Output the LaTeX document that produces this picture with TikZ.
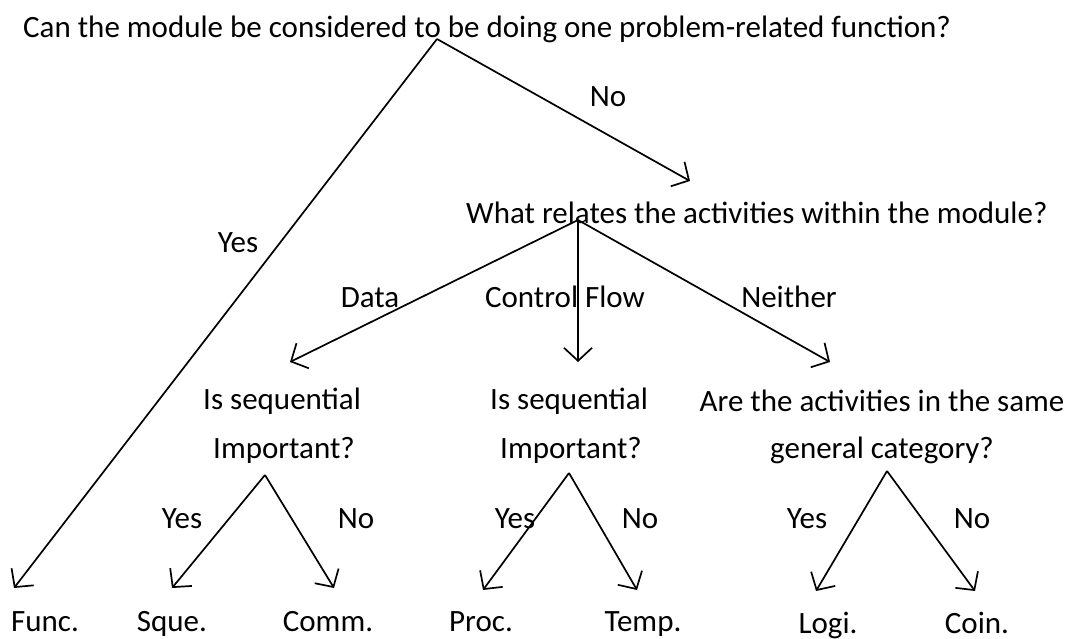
\documentclass[tikz,border=0pt]{standalone}
\usepackage{fontspec}
\setmainfont{Carlito}
\usetikzlibrary{arrows.meta}
\begin{document}
\begin{tikzpicture}[x=1pt,y=-1pt,
  lbl/.style={inner sep=0pt,anchor=base,font=\fontsize{31}{36}\selectfont},
  lblw/.style={lbl,anchor=base west},
  edge/.style={line width=1.7pt,-{Straight Barb[length=13pt,width=28pt,line width=1.7pt]}}]
\useasboundingbox (0,0) rectangle (1073,639);
% questions
\node[lblw] (q0) at (23,38) {Can the module be considered to be doing one problem-related function?};
\node[lblw] (q1) at (466,223) {What relates the activities within the module?};
\node[lblw] (q2a) at (203,409) {Is sequential};
\node[lblw] (q2b) at (213,458) {Important?};
\node[lblw] (q3a) at (490,409) {Is sequential};
\node[lblw] (q3b) at (500,458) {Important?};
\node[lbl] (q4a) at (882,411) {Are the activities in the same};
\node[lbl] (q4b) at (882,458) {general category?};
% leaves
\node[lbl] (func) at (45,631) {Func.};
\node[lbl] (sque) at (172,631) {Sque.};
\node[lbl] (comm) at (328,631) {Comm.};
\node[lbl] (proc) at (481,631) {Proc.};
\node[lbl] (temp) at (643,631) {Temp.};
\node[lbl] (logi) at (828,633) {Logi.};
\node[lbl] (coin) at (977,633) {Coin.};
% branch points and arrow tips
\coordinate (a0) at (437,39);
\coordinate (a1) at (578,220);
\coordinate (a2) at (265,475);
\coordinate (a3) at (569,473);
\coordinate (a4) at (887,471);
\coordinate (tfunc) at (14,588);
\coordinate (tq1) at (690,181);
\coordinate (tq2) at (290,362);
\coordinate (tq3) at (578,362);
\coordinate (tq4) at (830,362);
\coordinate (tsque) at (172,588);
\coordinate (tcomm) at (334,588);
\coordinate (tproc) at (483,590);
\coordinate (ttemp) at (637,590);
\coordinate (tlogi) at (816,591);
\coordinate (tcoin) at (975,591);
% connectors
\draw[edge] (a0) -- (tfunc);
\draw[edge] (a0) -- (tq1);
\draw[edge] (a1) -- (tq2);
\draw[edge] (a1) -- (tq3);
\draw[edge] (a1) -- (tq4);
\draw[edge] (a2) -- (tsque);
\draw[edge] (a2) -- (tcomm);
\draw[edge] (a3) -- (tproc);
\draw[edge] (a3) -- (ttemp);
\draw[edge] (a4) -- (tlogi);
\draw[edge] (a4) -- (tcoin);
% branch labels
\node[lbl] (lno0) at (608,107) {No};
\node[lbl] (lyes0) at (238,252) {Yes};
\node[lbl] (ldata) at (370,307) {Data};
\node[lbl] (lctrl) at (565,307) {Control Flow};
\node[lbl] (lneit) at (789,307) {Neither};
\node[lbl] (ly2) at (182,528) {Yes};
\node[lbl] (ln2) at (356,528) {No};
\node[lbl] (ly3) at (515,528) {Yes};
\node[lbl] (ln3) at (640,528) {No};
\node[lbl] (ly4) at (807,528) {Yes};
\node[lbl] (ln4) at (972,528) {No};
\end{tikzpicture}
\end{document}
